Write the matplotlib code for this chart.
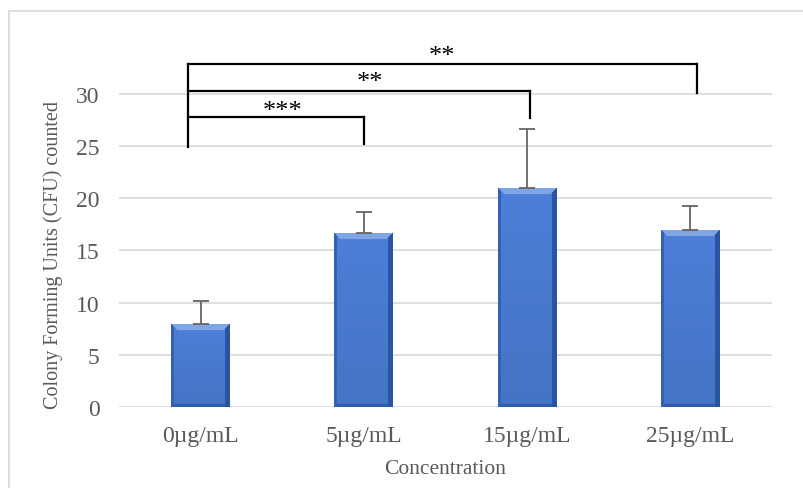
import numpy as np
import matplotlib.pyplot as plt
from matplotlib.patches import Rectangle

# data
categories = ['0µg/mL', '5µg/mL', '15µg/mL', '25µg/mL']
cfu_mean = [8.0, 16.7, 21.0, 17.0]
cfu_err = [2.2, 2.0, 5.6, 2.3]

# significance brackets: (left, right, label)
comparisons = [(0, 1, '***'), (0, 2, '**'), (0, 3, '**')]

plt.rcParams['font.family'] = ['Liberation Serif', 'DejaVu Serif']
grey = '#595959'

fig = plt.figure(figsize=(8.04, 4.89), dpi=100)
ax = fig.add_axes([0.148, 0.1656, 0.812, 0.747])

# outer chart border
fig.patches.append(Rectangle((9/804, -0.05), 1.0, 1.05 - 12/489, transform=fig.transFigure,
                             fill=False, edgecolor='#d9d9d9', linewidth=1.2))

x = np.arange(len(categories))
bw = 0.36
bars = ax.bar(x, cfu_mean, width=bw, color='#4574cc', edgecolor='none', zorder=3)

# bevel-ish shading painted inside each bar (row 0 = top of bar)
base = np.array([0.29, 0.48, 0.82])
light = np.array([0.50, 0.65, 0.90])
dark = np.array([0.17, 0.33, 0.62])
px_per_unit = 10.44
for b in bars:
    nx = 60
    ny = max(int(b.get_height() * px_per_unit), 2)
    img = np.tile(base, (ny, nx, 1))
    yy, xx = np.mgrid[0:ny, 0:nx]
    img = img * (1.04 - 0.10 * (yy / ny))[..., None]
    bev = 7
    top = (yy < bev) & (xx >= yy) & (xx < nx - yy)
    left = (xx < 3) & ~top
    right = (xx >= nx - 5) & ~top
    bottom = (yy >= ny - 3) & ~left & ~right
    img[top] = light
    img[left] = dark * 1.15
    img[right] = dark
    img[bottom] = dark * 1.1
    img = np.clip(img, 0, 1)
    x0 = b.get_x()
    im = ax.imshow(img, extent=[x0, x0 + b.get_width(), 0, b.get_height()], aspect='auto',
                   interpolation='bilinear', zorder=3.5, origin='upper')
    im.set_clip_path(b)

ax.errorbar(x, cfu_mean, yerr=[np.zeros(len(cfu_err)), cfu_err], fmt='none',
            ecolor='#666666', elinewidth=1.3, capsize=6, capthick=1.3, zorder=4)

ax.set_xlim(-0.5, 3.5)
ax.set_ylim(0, 35)
ax.set_yticks(range(0, 31, 5))
ax.set_xticks(x)
ax.set_xticklabels(categories)
ax.yaxis.grid(True, color='#d9d9d9', linewidth=1.2, zorder=0)
ax.set_axisbelow(True)
for s in ax.spines.values():
    s.set_visible(False)
ax.tick_params(length=0, labelsize=17, colors=grey)
ax.tick_params(axis='y', pad=14)
ax.tick_params(axis='x', pad=13)
ax.set_xlabel('Concentration', fontsize=15.5, color=grey, labelpad=9)
ax.set_ylabel('Colony Forming Units (CFU) counted', fontsize=14.5, color=grey)
ax.yaxis.set_label_coords(-0.085, 0.42)

# brackets
tops = [27.8, 30.3, 32.9]
feet = [25.2, 27.7, 30.1]
xr = [1.0, 2.02, 3.04]
star_x = [0.5, 1.04, 1.48]
star_y = [28.4, 31.1, 33.6]
xl = -0.08
for (i, j, lab), top, foot, r, sx, sy in zip(comparisons, tops, feet, xr, star_x, star_y):
    ax.plot([r, r], [foot, top], color='black', lw=1.6, clip_on=False, zorder=5)
    ax.plot([xl, r], [top, top], color='black', lw=1.6, clip_on=False, zorder=5)
    ax.text(sx, sy, lab, ha='center', va='center', fontsize=19,
            color='black', clip_on=False)
ax.plot([xl, xl], [24.9, tops[-1]], color='black', lw=1.6, clip_on=False, zorder=5)

fig.savefig('out.png', dpi=100)
